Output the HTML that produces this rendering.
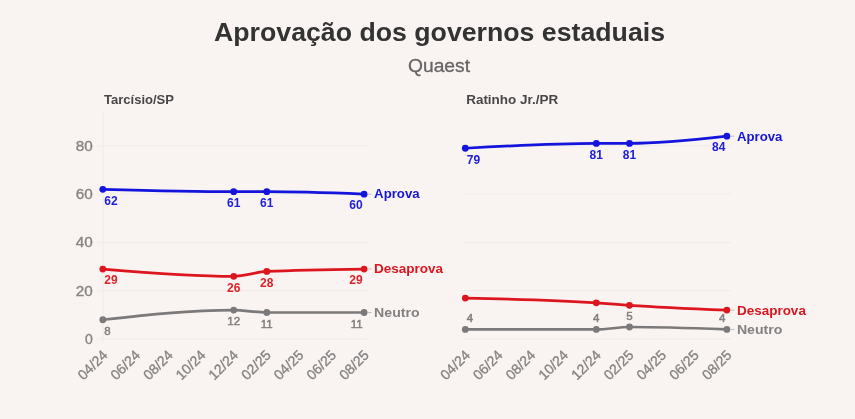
<!DOCTYPE html>
<html><head><meta charset="utf-8"><style>
html,body{margin:0;padding:0;background:#f9f4f2;}
svg{display:block;}
text{font-family:"Liberation Sans",Arial,sans-serif;}
.t{font-weight:bold;font-size:25.6px;fill:#333333;}
.st{font-size:18.5px;fill:#666464;stroke:#666464;stroke-width:0.3px;}
.pt{font-weight:bold;font-size:13px;fill:#484646;}
.ax{font-size:14px;fill:#878484;stroke:#878484;stroke-width:0.35px;}
.sl{font-weight:bold;font-size:13.5px;}
.vl{font-weight:bold;font-size:12px;}
.vn{font-size:11.5px;stroke:#827f7f;stroke-width:0.5px;}
</style></head><body>
<svg width="855" height="419" viewBox="0 0 855 419">
<rect width="855" height="419" fill="#f9f4f2"/>
<text x="439.5" y="40.5" text-anchor="middle" class="t" textLength="451" lengthAdjust="spacingAndGlyphs">Aprovação dos governos estaduais</text>
<text x="439" y="71.7" text-anchor="middle" class="st" textLength="62" lengthAdjust="spacingAndGlyphs">Quaest</text>
<text x="104" y="104.1" class="pt" textLength="70" lengthAdjust="spacingAndGlyphs">Tarcísio/SP</text>
<text x="466.2" y="104.2" class="pt" textLength="92" lengthAdjust="spacingAndGlyphs">Ratinho Jr./PR</text>
<line x1="97" x2="369" y1="339.1" y2="339.1" stroke="#efebe8" stroke-width="1"/>
<line x1="97" x2="369" y1="290.78000000000003" y2="290.78000000000003" stroke="#efebe8" stroke-width="1"/>
<line x1="97" x2="369" y1="242.46000000000004" y2="242.46000000000004" stroke="#efebe8" stroke-width="1"/>
<line x1="97" x2="369" y1="194.14000000000001" y2="194.14000000000001" stroke="#efebe8" stroke-width="1"/>
<line x1="97" x2="369" y1="145.82000000000002" y2="145.82000000000002" stroke="#efebe8" stroke-width="1"/>
<line x1="103.0" x2="103.0" y1="112" y2="341" stroke="#f1edea" stroke-width="1.4"/>
<text x="92.7" y="343.9" text-anchor="end" class="ax">0</text>
<text x="92.7" y="295.6" text-anchor="end" class="ax" textLength="17" lengthAdjust="spacingAndGlyphs">20</text>
<text x="92.7" y="247.3" text-anchor="end" class="ax" textLength="17" lengthAdjust="spacingAndGlyphs">40</text>
<text x="92.7" y="198.9" text-anchor="end" class="ax" textLength="17" lengthAdjust="spacingAndGlyphs">60</text>
<text x="92.7" y="150.6" text-anchor="end" class="ax" textLength="17" lengthAdjust="spacingAndGlyphs">80</text>
<text transform="translate(108.4,356) rotate(-45)" text-anchor="end" class="ax">04/24</text>
<text transform="translate(141.1,356) rotate(-45)" text-anchor="end" class="ax">06/24</text>
<text transform="translate(173.7,356) rotate(-45)" text-anchor="end" class="ax">08/24</text>
<text transform="translate(206.4,356) rotate(-45)" text-anchor="end" class="ax">10/24</text>
<text transform="translate(239.0,356) rotate(-45)" text-anchor="end" class="ax">12/24</text>
<text transform="translate(271.7,356) rotate(-45)" text-anchor="end" class="ax">02/25</text>
<text transform="translate(304.4,356) rotate(-45)" text-anchor="end" class="ax">04/25</text>
<text transform="translate(337.0,356) rotate(-45)" text-anchor="end" class="ax">06/25</text>
<text transform="translate(369.7,356) rotate(-45)" text-anchor="end" class="ax">08/25</text>
<path d="M102.80,189.31 C146.43,190.52 190.07,191.72 233.70,191.72 C244.73,191.72 255.77,191.72 266.80,191.72 C299.23,191.72 331.67,192.93 364.10,194.14" fill="none" stroke="#1414dc" stroke-width="2.7" stroke-linecap="round"/>
<circle cx="102.8" cy="189.30800000000002" r="3.4" fill="#1414dc"/>
<circle cx="233.7" cy="191.72400000000002" r="3.4" fill="#1414dc"/>
<circle cx="266.8" cy="191.72400000000002" r="3.4" fill="#1414dc"/>
<circle cx="364.1" cy="194.14000000000001" r="3.4" fill="#1414dc"/>
<line x1="368.1" x2="371.6" y1="194.14000000000001" y2="194.14000000000001" stroke="#bdbdbd" stroke-width="1"/>
<text x="374.1" y="197.9" class="sl" fill="#1414dc" textLength="45.5" lengthAdjust="spacingAndGlyphs">Aprova</text>
<text x="104.3" y="204.7" text-anchor="start" class="vl" fill="#2020d8">62</text>
<text x="233.7" y="206.9" text-anchor="middle" class="vl" fill="#2020d8">61</text>
<text x="266.8" y="206.9" text-anchor="middle" class="vl" fill="#2020d8">61</text>
<text x="362.6" y="209.3" text-anchor="end" class="vl" fill="#2020d8">60</text>
<path d="M102.80,269.04 C146.43,272.66 190.07,276.28 233.70,276.28 C244.73,276.28 255.77,272.00 266.80,271.45 C299.23,269.84 331.67,269.44 364.10,269.04" fill="none" stroke="#dc161e" stroke-width="2.7" stroke-linecap="round"/>
<circle cx="102.8" cy="269.03600000000006" r="3.4" fill="#dc161e"/>
<circle cx="233.7" cy="276.28400000000005" r="3.4" fill="#dc161e"/>
<circle cx="266.8" cy="271.452" r="3.4" fill="#dc161e"/>
<circle cx="364.1" cy="269.03600000000006" r="3.4" fill="#dc161e"/>
<line x1="368.1" x2="371.6" y1="269.03600000000006" y2="269.03600000000006" stroke="#bdbdbd" stroke-width="1"/>
<text x="374.1" y="273.2" class="sl" fill="#dc161e" textLength="69" lengthAdjust="spacingAndGlyphs">Desaprova</text>
<text x="104.3" y="284.4" text-anchor="start" class="vl" fill="#de2229">29</text>
<text x="233.7" y="291.7" text-anchor="middle" class="vl" fill="#de2229">26</text>
<text x="266.8" y="286.9" text-anchor="middle" class="vl" fill="#de2229">28</text>
<text x="362.6" y="284.4" text-anchor="end" class="vl" fill="#de2229">29</text>
<path d="M102.80,319.77 C146.43,314.94 190.07,310.11 233.70,310.11 C244.73,310.11 255.77,312.52 266.80,312.52 C299.23,312.52 331.67,312.52 364.10,312.52" fill="none" stroke="#7b7979" stroke-width="2.7" stroke-linecap="round"/>
<circle cx="102.8" cy="319.77200000000005" r="3.4" fill="#7b7979"/>
<circle cx="233.7" cy="310.108" r="3.4" fill="#7b7979"/>
<circle cx="266.8" cy="312.524" r="3.4" fill="#7b7979"/>
<circle cx="364.1" cy="312.524" r="3.4" fill="#7b7979"/>
<line x1="368.1" x2="371.6" y1="312.524" y2="312.524" stroke="#bdbdbd" stroke-width="1"/>
<text x="374.1" y="316.6" class="sl" fill="#828080" textLength="45.5" lengthAdjust="spacingAndGlyphs">Neutro</text>
<text x="104.3" y="334.8" text-anchor="start" class="vn" fill="#827f7f">8</text>
<text x="233.7" y="325.1" text-anchor="middle" class="vn" fill="#827f7f">12</text>
<text x="266.8" y="327.5" text-anchor="middle" class="vn" fill="#827f7f">11</text>
<text x="362.6" y="327.5" text-anchor="end" class="vn" fill="#827f7f">11</text>
<line x1="463.5" x2="731" y1="339.1" y2="339.1" stroke="#efebe8" stroke-width="1"/>
<line x1="463.5" x2="731" y1="290.78000000000003" y2="290.78000000000003" stroke="#efebe8" stroke-width="1"/>
<line x1="463.5" x2="731" y1="242.46000000000004" y2="242.46000000000004" stroke="#efebe8" stroke-width="1"/>
<line x1="463.5" x2="731" y1="194.14000000000001" y2="194.14000000000001" stroke="#efebe8" stroke-width="1"/>
<line x1="463.5" x2="731" y1="145.82000000000002" y2="145.82000000000002" stroke="#efebe8" stroke-width="1"/>
<text transform="translate(470.9,356) rotate(-45)" text-anchor="end" class="ax">04/24</text>
<text transform="translate(503.6,356) rotate(-45)" text-anchor="end" class="ax">06/24</text>
<text transform="translate(536.3,356) rotate(-45)" text-anchor="end" class="ax">08/24</text>
<text transform="translate(569.0,356) rotate(-45)" text-anchor="end" class="ax">10/24</text>
<text transform="translate(601.7,356) rotate(-45)" text-anchor="end" class="ax">12/24</text>
<text transform="translate(634.4,356) rotate(-45)" text-anchor="end" class="ax">02/25</text>
<text transform="translate(667.1,356) rotate(-45)" text-anchor="end" class="ax">04/25</text>
<text transform="translate(699.8,356) rotate(-45)" text-anchor="end" class="ax">06/25</text>
<text transform="translate(732.5,356) rotate(-45)" text-anchor="end" class="ax">08/25</text>
<path d="M465.30,148.24 C508.97,145.82 552.63,143.40 596.30,143.40 C607.37,143.40 618.43,143.40 629.50,143.40 C661.97,143.40 694.43,139.78 726.90,136.16" fill="none" stroke="#1414dc" stroke-width="2.7" stroke-linecap="round"/>
<circle cx="465.3" cy="148.23600000000002" r="3.4" fill="#1414dc"/>
<circle cx="596.3" cy="143.40400000000002" r="3.4" fill="#1414dc"/>
<circle cx="629.5" cy="143.40400000000002" r="3.4" fill="#1414dc"/>
<circle cx="726.9" cy="136.15600000000003" r="3.4" fill="#1414dc"/>
<line x1="730.9" x2="734.4" y1="136.15600000000003" y2="136.15600000000003" stroke="#bdbdbd" stroke-width="1"/>
<text x="736.9" y="140.5" class="sl" fill="#1414dc" textLength="45.5" lengthAdjust="spacingAndGlyphs">Aprova</text>
<text x="466.8" y="163.6" text-anchor="start" class="vl" fill="#2020d8">79</text>
<text x="596.3" y="158.6" text-anchor="middle" class="vl" fill="#2020d8">81</text>
<text x="629.5" y="158.6" text-anchor="middle" class="vl" fill="#2020d8">81</text>
<text x="725.4" y="151.2" text-anchor="end" class="vl" fill="#2020d8">84</text>
<path d="M465.30,298.03 C508.97,299.01 552.63,300.00 596.30,302.86 C607.37,303.59 618.43,304.54 629.50,305.28 C661.97,307.45 694.43,308.78 726.90,310.11" fill="none" stroke="#dc161e" stroke-width="2.7" stroke-linecap="round"/>
<circle cx="465.3" cy="298.028" r="3.4" fill="#dc161e"/>
<circle cx="596.3" cy="302.86" r="3.4" fill="#dc161e"/>
<circle cx="629.5" cy="305.276" r="3.4" fill="#dc161e"/>
<circle cx="726.9" cy="310.108" r="3.4" fill="#dc161e"/>
<line x1="730.9" x2="734.4" y1="310.108" y2="310.108" stroke="#bdbdbd" stroke-width="1"/>
<text x="736.9" y="314.7" class="sl" fill="#dc161e" textLength="69" lengthAdjust="spacingAndGlyphs">Desaprova</text>
<path d="M465.30,329.44 C508.97,329.44 552.63,329.44 596.30,329.44 C607.37,329.44 618.43,327.02 629.50,327.02 C661.97,327.02 694.43,328.23 726.90,329.44" fill="none" stroke="#7b7979" stroke-width="2.7" stroke-linecap="round"/>
<circle cx="465.3" cy="329.43600000000004" r="3.4" fill="#7b7979"/>
<circle cx="596.3" cy="329.43600000000004" r="3.4" fill="#7b7979"/>
<circle cx="629.5" cy="327.02000000000004" r="3.4" fill="#7b7979"/>
<circle cx="726.9" cy="329.43600000000004" r="3.4" fill="#7b7979"/>
<line x1="730.9" x2="734.4" y1="329.43600000000004" y2="329.43600000000004" stroke="#bdbdbd" stroke-width="1"/>
<text x="736.9" y="333.7" class="sl" fill="#828080" textLength="45.5" lengthAdjust="spacingAndGlyphs">Neutro</text>
<text x="466.8" y="322.4" text-anchor="start" class="vn" fill="#827f7f">4</text>
<text x="596.3" y="322.4" text-anchor="middle" class="vn" fill="#827f7f">4</text>
<text x="629.5" y="319.8" text-anchor="middle" class="vn" fill="#827f7f">5</text>
<text x="725.4" y="322.4" text-anchor="end" class="vn" fill="#827f7f">4</text>
</svg>
</body></html>
